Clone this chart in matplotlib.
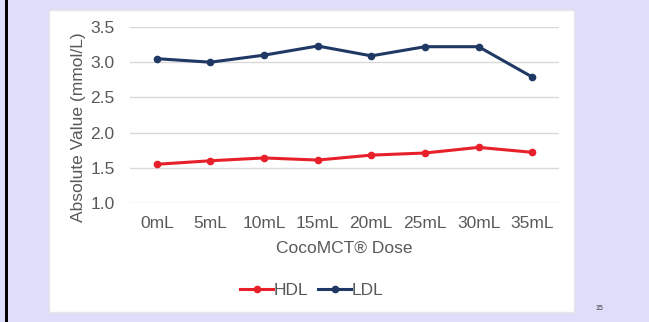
import matplotlib.pyplot as plt
from matplotlib.patches import Rectangle

plt.rcParams["font.family"] = ["Liberation Sans", "DejaVu Sans"]

doses = ["0mL", "5mL", "10mL", "15mL", "20mL", "25mL", "30mL", "35mL"]
hdl = [1.55, 1.60, 1.64, 1.61, 1.68, 1.71, 1.79, 1.72]
ldl = [3.05, 3.00, 3.10, 3.23, 3.09, 3.22, 3.22, 2.79]
y_ticks = [1.0, 1.5, 2.0, 2.5, 3.0, 3.5]

W, H = 649, 322
TEXT = "#595959"
RED = "#e8202a"
NAVY = "#1f3864"


def fx(px):
    return px / W


def fy(py):
    return 1 - py / H


fig = plt.figure(figsize=(W / 100, H / 100), dpi=100)
fig.patch.set_facecolor("#dedefa")

# slide decorations, kept behind the axes
fig.add_artist(Rectangle((fx(5), 0), fx(2.5), 1, transform=fig.transFigure,
                         facecolor="black", edgecolor="none", zorder=-10))
fig.add_artist(Rectangle((fx(49), fy(312)), fx(574 - 49), (312 - 10) / H,
                         transform=fig.transFigure, facecolor="white",
                         edgecolor="#e6e6e6", linewidth=1, zorder=-10))

ax = fig.add_axes([fx(130), fy(203), fx(559 - 130), (203 - 27) / H])
ax.set_facecolor("none")

x = range(len(doses))
h_line, = ax.plot(x, hdl, color=RED, lw=2.2, marker="o", ms=4.5, label="HDL")
l_line, = ax.plot(x, ldl, color=NAVY, lw=2.2, marker="o", ms=4.5, label="LDL")

ax.set_xlim(-0.5, len(doses) - 0.5)
ax.set_ylim(1.0, 3.5)
ax.set_yticks(y_ticks)
ax.set_yticklabels([f"{v:.1f}" for v in y_ticks])
ax.set_xticks(list(x))
ax.set_xticklabels(doses)
ax.grid(axis="y", color="#d9d9d9", lw=1)
ax.set_axisbelow(True)
for s in ax.spines.values():
    s.set_visible(False)
ax.tick_params(length=0, labelsize=12.5, labelcolor=TEXT, pad=9)
ax.tick_params(axis="y", pad=11)

fig.text(fx(78), fy(127), "Absolute Value (mmol/L)", rotation=90,
         ha="center", va="center", fontsize=12.5, color=TEXT)
fig.text(fx(344), fy(248), "CocoMCT® Dose", ha="center", va="center",
         fontsize=12.5, color=TEXT)

fig.legend(handles=[h_line, l_line], loc="center",
           bbox_to_anchor=(fx(312), fy(290)), ncol=2, frameon=False,
           fontsize=12.5, labelcolor=TEXT, handlelength=1.9,
           handletextpad=0.05, columnspacing=0.55)

fig.text(fx(599), fy(309), "15", ha="center", va="center", fontsize=5,
         color="#333333")

fig.savefig("out.png", dpi=100, facecolor=fig.get_facecolor())
